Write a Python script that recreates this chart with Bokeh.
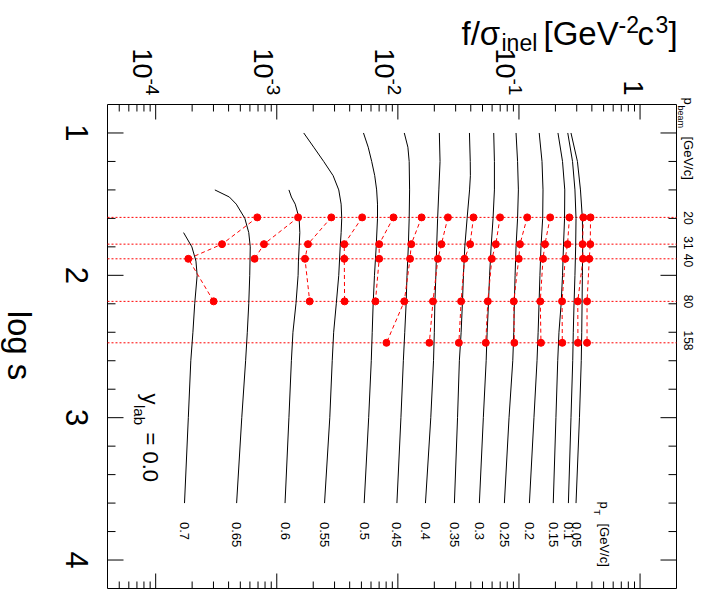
import math
from bokeh.plotting import figure
from bokeh.models import Range1d, Label
from bokeh.embed import file_html
from bokeh.resources import INLINE
from bokeh.core.properties import value

FONT = "Liberation Sans"

# ---------------- data ----------------
pt_labels = ["0.7", "0.65", "0.6", "0.55", "0.5", "0.45", "0.4", "0.35",
             "0.3", "0.25", "0.2", "0.15", "0.1", "0.05"]

# black curves: log s grid and f/sigma_inel values, one list per pT
curve_logs = [
    [1.70, 1.80, 1.90, 2.00, 2.20, 2.40, 2.60, 3.00, 3.60],
    [1.40, 1.45, 1.50, 1.60, 1.70, 1.80, 2.00, 2.20, 2.40, 2.60, 3.00, 3.60],
    [1.40, 1.45, 1.50, 1.60, 1.70, 1.80, 1.90, 2.00, 2.20, 2.40, 2.60, 3.00, 3.60],
    [1.0, 1.1, 1.2, 1.3, 1.4, 1.5, 1.6, 1.7, 1.8, 2.0, 2.2, 2.4, 2.6, 3.0, 3.6],
    [1.0, 1.1, 1.2, 1.3, 1.4, 1.5, 1.6, 1.8, 2.0, 2.2, 2.4, 2.6, 3.0, 3.6],
    [1.0, 1.1, 1.2, 1.4, 1.6, 1.8, 2.0, 2.2, 2.4, 2.6, 3.0, 3.6],
    [1.0, 1.2, 1.4, 1.6, 1.8, 2.0, 2.2, 2.4, 2.6, 3.0, 3.6],
    [1.0, 1.2, 1.3, 1.4, 1.6, 1.8, 2.0, 2.2, 2.4, 2.6, 3.0, 3.6],
    [1.0, 1.2, 1.4, 1.6, 1.8, 2.0, 2.2, 2.4, 2.6, 3.0, 3.6],
    [1.0, 1.2, 1.4, 1.6, 1.8, 2.0, 2.2, 2.4, 2.6, 3.0, 3.6],
    [1.0, 1.2, 1.4, 1.6, 1.8, 2.0, 2.2, 2.4, 2.6, 3.0, 3.6],
    [1.0, 1.2, 1.4, 1.6, 1.8, 2.0, 2.2, 2.4, 2.6, 3.0, 3.6],
    [1.0, 1.2, 1.4, 1.6, 1.8, 2.0, 2.2, 2.4, 2.6, 3.0, 3.6],
    [1.0, 1.2, 1.4, 1.6, 1.8, 2.0, 2.2, 2.4, 2.6, 3.0, 3.6],
]
curve_f = [
    [1.70e-4, 1.99e-4, 2.15e-4, 2.20e-4, 2.10e-4, 2.03e-4, 1.95e-4, 1.86e-4, 1.73e-4],
    [3.08e-4, 4.06e-4, 4.63e-4, 5.45e-4, 5.87e-4, 6.04e-4, 5.98e-4, 5.87e-4, 5.71e-4, 5.53e-4, 5.14e-4, 4.66e-4],
    [1.26e-3, 1.32e-3, 1.42e-3, 1.53e-3, 1.55e-3, 1.53e-3, 1.51e-3, 1.50e-3, 1.44e-3, 1.36e-3, 1.32e-3, 1.26e-3, 1.17e-3],
    [1.67e-3, 2.02e-3, 2.44e-3, 2.92e-3, 3.25e-3, 3.40e-3, 3.44e-3, 3.40e-3, 3.34e-3, 3.25e-3, 3.10e-3, 2.95e-3, 2.87e-3, 2.74e-3, 2.48e-3],
    [5.20e-3, 5.69e-3, 6.08e-3, 6.44e-3, 6.68e-3, 6.79e-3, 6.79e-3, 6.62e-3, 6.41e-3, 6.25e-3, 6.14e-3, 6.03e-3, 5.74e-3, 5.27e-3],
    [1.13e-2, 1.21e-2, 1.24e-2, 1.25e-2, 1.24e-2, 1.22e-2, 1.19e-2, 1.17e-2, 1.14e-2, 1.11e-2, 1.06e-2, 9.82e-3],
    [2.20e-2, 2.23e-2, 2.18e-2, 2.13e-2, 2.09e-2, 2.06e-2, 2.02e-2, 2.00e-2, 1.97e-2, 1.87e-2, 1.69e-2],
    [3.90e-2, 3.96e-2, 3.97e-2, 3.91e-2, 3.73e-2, 3.57e-2, 3.48e-2, 3.41e-2, 3.33e-2, 3.22e-2, 3.11e-2, 2.93e-2],
    [6.19e-2, 6.27e-2, 6.27e-2, 6.11e-2, 5.89e-2, 5.72e-2, 5.60e-2, 5.46e-2, 5.36e-2, 5.08e-2, 4.71e-2],
    [9.46e-2, 9.74e-2, 9.89e-2, 9.74e-2, 9.46e-2, 9.29e-2, 9.16e-2, 9.06e-2, 8.89e-2, 8.28e-2, 7.58e-2],
    [0.147, 0.155, 0.158, 0.157, 0.152, 0.149, 0.1465, 0.144, 0.141, 0.133, 0.122],
    [0.210, 0.229, 0.239, 0.238, 0.233, 0.229, 0.223, 0.214, 0.209, 0.202, 0.192],
    [0.253, 0.277, 0.290, 0.296, 0.294, 0.290, 0.285, 0.281, 0.278, 0.269, 0.256],
    [0.269, 0.304, 0.322, 0.334, 0.336, 0.334, 0.332, 0.330, 0.327, 0.316, 0.296],
]

# beam momenta [GeV/c] and their log s
beam_labels = ["20", "31", "40", "80", "158"]
beam_logs = [1.593, 1.781, 1.884, 2.183, 2.474]

# red data points, per beam momentum, ordered as pt_labels (None = no point)
f_p20 = [6.90e-4, 1.50e-3, 2.82e-3, 5.07e-3, 9.20e-3, 1.57e-2, 2.59e-2, 4.21e-2,
         6.98e-2, 0.117, 0.181, 0.261, 0.340, 0.390]
f_p31 = [3.53e-4, 7.84e-4, 1.81e-3, 3.61e-3, 7.01e-3, 1.29e-2, 2.29e-2, 3.95e-2,
         6.44e-2, 0.102, 0.164, 0.252, 0.335, 0.388]
f_p40 = [1.86e-4, 6.56e-4, 1.71e-3, 3.61e-3, 7.01e-3, 1.26e-2, 2.14e-2, 3.55e-2,
         5.97e-2, 9.96e-2, 0.158, 0.241, 0.338, 0.381]
f_p80 = [3.01e-4, None, 1.87e-3, 3.63e-3, 6.53e-3, 1.13e-2, 1.95e-2, 3.33e-2,
         5.53e-2, 9.06e-2, 0.150, 0.227, 0.306, 0.365]
f_p158 = [None, None, None, None, None, 8.05e-3, 1.82e-2, 3.19e-2,
          5.32e-2, 9.16e-2, 0.152, 0.228, 0.307, 0.365]
points_by_beam = [f_p20, f_p31, f_p40, f_p80, f_p158]

# axes: limits, ticks and tick labels
F_MIN, F_MAX = 4e-5, 2.0
S_MIN, S_MAX = 0.8, 4.2
f_major_ticks = [1e-4, 1e-3, 1e-2, 1e-1, 1.0]
f_minor_ticks = [5e-5, 6e-5, 7e-5, 8e-5, 9e-5,
                 2e-4, 3e-4, 4e-4, 5e-4, 6e-4, 7e-4, 8e-4, 9e-4,
                 2e-3, 3e-3, 4e-3, 5e-3, 6e-3, 7e-3, 8e-3, 9e-3,
                 2e-2, 3e-2, 4e-2, 5e-2, 6e-2, 7e-2, 8e-2, 9e-2,
                 0.2, 0.3, 0.4, 0.5, 0.6, 0.7, 0.8, 0.9]
f_exp_ticks = [1e-4, 1e-3, 1e-2, 1e-1]
f_exp_labels = ["-4", "-3", "-2", "-1"]
s_major_ticks = [1, 2, 3, 4]
s_minor_ticks = [1.2, 1.4, 1.6, 1.8, 2.2, 2.4, 2.6, 2.8,
                 3.2, 3.4, 3.6, 3.8]
s_labels = ["1", "2", "3", "4"]

# ---------------- canvas / scales ----------------
W, H = 711, 613
BOX_L, BOX_R, BOX_T, BOX_B = 107, 676, 104, 588        # axis frame on the canvas
PX_DEC = (BOX_R - BOX_L) / (math.log10(F_MAX) - math.log10(F_MIN))
PX_S = (BOX_B - BOX_T) / (S_MAX - S_MIN)
LX0 = math.log10(F_MIN) - BOX_L / PX_DEC
x_lo, x_hi = 10 ** LX0, 10 ** (math.log10(F_MAX) + (W - BOX_R) / PX_DEC)
y_top, y_bot = S_MIN - BOX_T / PX_S, S_MAX + (H - BOX_B) / PX_S

p = figure(width=W, height=H, x_axis_type="log", x_axis_location=None,
           y_axis_location=None, x_range=Range1d(x_lo, x_hi),
           y_range=Range1d(y_bot, y_top), output_backend="svg",
           toolbar_location=None, min_border=0)
p.min_border_left = p.min_border_right = p.min_border_top = p.min_border_bottom = 0
p.title.visible = False
p.xgrid.visible = False
p.ygrid.visible = False
p.outline_line_color = None
p.background_fill_color = "white"
p.border_fill_color = "white"


def X(px):  # canvas pixel column -> f value
    return 10 ** (LX0 + px / PX_DEC)


def Y(py):  # canvas pixel row -> log s value
    return y_top + py / PX_S


ROT = -math.pi / 2
TXT = dict(text_font=value(FONT), text_color="black")

# ---------------- frame and ticks ----------------
p.quad(left=[F_MIN], right=[F_MAX], top=[S_MIN], bottom=[S_MAX],
       fill_color=None, line_color="black", line_width=1)

def f_ticks(ticks, length):
    d = length / PX_S
    n = len(ticks)
    p.segment(x0=ticks, x1=ticks, y0=[S_MIN] * n, y1=[S_MIN + d] * n,
              line_color="black", line_width=1)
    p.segment(x0=ticks, x1=ticks, y0=[S_MAX] * n, y1=[S_MAX - d] * n,
              line_color="black", line_width=1)

def s_ticks(ticks, length):
    k = 10 ** (length / PX_DEC)
    n = len(ticks)
    p.segment(x0=[F_MIN] * n, x1=[F_MIN * k] * n, y0=ticks, y1=ticks,
              line_color="black", line_width=1)
    p.segment(x0=[F_MAX] * n, x1=[F_MAX / k] * n, y0=ticks, y1=ticks,
              line_color="black", line_width=1)

f_ticks(f_major_ticks, 15)
f_ticks(f_minor_ticks, 7)
s_ticks(s_major_ticks, 16)
s_ticks(s_minor_ticks, 8)

# tick labels (text rotated 90 degrees clockwise, as in the reference)
p.text(x=[X(76)] * len(s_major_ticks), y=s_major_ticks, text=s_labels, angle=ROT,
       text_font_size="31px", text_align="center", text_baseline="alphabetic", **TXT)
n = len(f_exp_ticks)
p.text(x=f_exp_ticks, y=[Y(48)] * n, text=["10"] * n, angle=ROT, x_offset=-13,
       text_font_size="27px", text_align="left", text_baseline="alphabetic", **TXT)
p.text(x=f_exp_ticks, y=[Y(78)] * n, text=f_exp_labels, angle=ROT, x_offset=-3,
       text_font_size="19px", text_align="left", text_baseline="alphabetic", **TXT)
p.text(x=[1.0], y=[Y(95)], text=["1"], angle=ROT, x_offset=-7,
       text_font_size="27px", text_align="right", text_baseline="alphabetic", **TXT)

# ---------------- data marks ----------------
p.segment(x0=[F_MIN] * len(beam_logs), x1=[F_MAX] * len(beam_logs),
          y0=beam_logs, y1=beam_logs, line_color="red", line_dash="2 2", line_width=1)

p.multi_line(xs=curve_f, ys=curve_logs, line_color="black", line_width=1)

dxs, dys, px_, py_ = [], [], [], []
for i in range(len(pt_labels)):
    xs, ys = [], []
    for b, arr in enumerate(points_by_beam):
        if arr[i] is not None:
            xs.append(arr[i]); ys.append(beam_logs[b])
            px_.append(arr[i]); py_.append(beam_logs[b])
    dxs.append(xs); dys.append(ys)
p.multi_line(xs=dxs, ys=dys, line_color="red", line_width=1, line_dash="4 3")
p.scatter(px_, py_, size=7, fill_color="red", line_color="red")

# ---------------- texts ----------------
def lab(px, py, text, size, angle=0.0, align="left", baseline="alphabetic"):
    p.add_layout(Label(x=X(px), y=Y(py), text=text, text_font=FONT,
                       text_font_size=f"{size}px", angle=angle,
                       text_align=align, text_baseline=baseline,
                       text_color="black"))

# pT labels below the curve ends
end_f = [c[-1] for c in curve_f]
p.text(x=end_f, y=[Y(521.5)] * len(end_f), text=pt_labels, angle=ROT,
       text_font_size="13px", text_align="left", text_baseline="middle", **TXT)

# title  f/sigma_inel [GeV^-2 c^3]
lab(461, 33, "f/σ", 33)
lab(501, 42, "inel", 23)
lab(543, 33, "[GeV", 33)
lab(618, 24, "-2", 23)
lab(637, 33, "c", 33)
lab(655, 24, "3", 23)
lab(668, 33, "]", 33)

# log s
lab(19, 345, "log s", 33, angle=ROT, align="center")

# p_beam [GeV/c] and beam momenta (label centres slightly spread apart)
lab(688, 97, "p", 13, angle=ROT)
lab(680, 105, "beam", 9, angle=ROT)
lab(688, 136, "[GeV/c]", 13, angle=ROT)
beam_label_rows = [217.5, 242.5, 260.0, 301.0, 340.0]
for t, row in zip(beam_labels, beam_label_rows):
    lab(688, row, t, 12, angle=ROT, align="center")

# p_T [GeV/c]
lab(604, 501, "p", 13, angle=ROT)
lab(596, 509, "T", 9, angle=ROT)
lab(604, 523, "[GeV/c]", 13, angle=ROT)

# y_lab = 0.0
lab(150, 393, "y", 22, angle=ROT)
lab(139, 404.5, "lab", 15, angle=ROT)
lab(150, 432, "= 0.0", 22, angle=ROT)

open("out.html", "w").write(file_html(p, INLINE))
